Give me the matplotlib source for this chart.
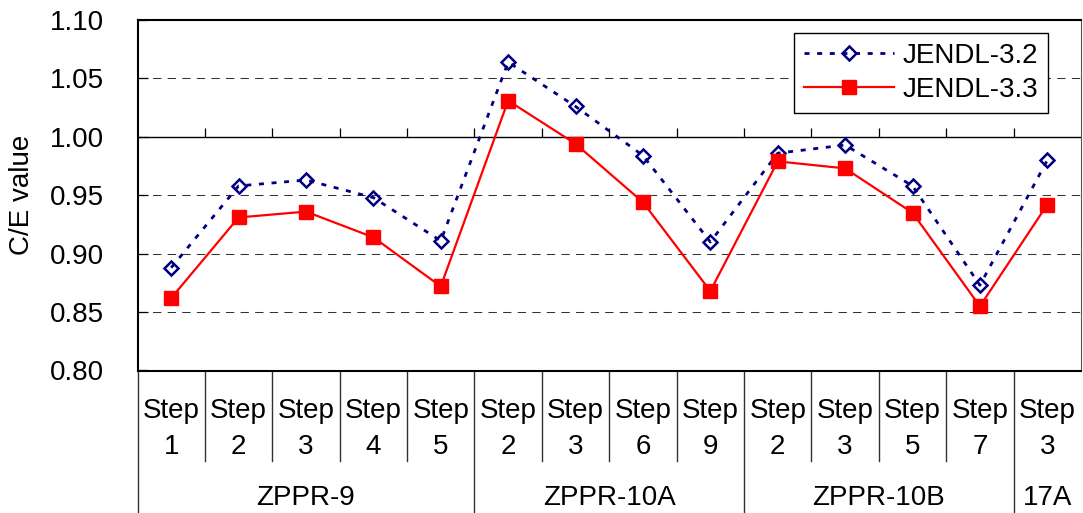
import matplotlib
matplotlib.use("Agg")
import matplotlib.pyplot as plt
import numpy as np

plt.rcParams['font.family'] = ['Liberation Sans', 'DejaVu Sans']
plt.rcParams['font.size'] = 20

# ---- data ----
steps = ["1", "2", "3", "4", "5", "2", "3", "6", "9", "2", "3", "5", "7", "3"]
groups = ["ZPPR-9", "ZPPR-10A", "ZPPR-10B", "17A"]
group_sizes = [5, 4, 4, 1]
jendl32 = [0.888, 0.958, 0.963, 0.948, 0.911, 1.064, 1.026, 0.984, 0.910,
           0.986, 0.993, 0.958, 0.873, 0.980]
jendl33 = [0.862, 0.931, 0.936, 0.914, 0.872, 1.031, 0.994, 0.944, 0.868,
           0.979, 0.973, 0.935, 0.855, 0.942]
yticks = [0.80, 0.85, 0.90, 0.95, 1.00, 1.05, 1.10]

W, H = 1083, 513
fig = plt.figure(figsize=(W / 100, H / 100), dpi=100)
L, R, T, B = 137.5, 1081, 20, 370.5
ax = fig.add_axes([L / W, 1 - B / H, (R - L) / W, (B - T) / H])

x = np.arange(len(steps))
ax.set_xlim(-0.5, len(steps) - 0.5)
ax.set_ylim(yticks[0], yticks[-1])

# grid lines
for yv in yticks[1:-1]:
    if abs(yv - 1.0) < 1e-9:
        ax.axhline(yv, color='black', lw=1.0, zorder=1)
    else:
        ax.axhline(yv, color='#333333', lw=0.75, ls=(0, (8, 6)), zorder=1)

# category ticks upward from the 1.00 line
data_per_px = (yticks[-1] - yticks[0]) / (B - T)
bounds = np.arange(len(steps) - 1) + 0.5
ax.vlines(bounds, 1.0, 1.0 + 9 * data_per_px, color='black', lw=0.9, zorder=1)

ax.plot(x, jendl32, color='#000080', lw=2.0, ls=(0, (1.8, 2.75)),
        marker='D', ms=7.2, mfc='none', mec='#000080', mew=1.8,
        label='JENDL-3.2', zorder=3)
ax.plot(x, jendl33, color='#ff0000', lw=1.6, ls='-',
        marker='s', ms=9.5, mfc='#ff0000', mec='#ff0000',
        label='JENDL-3.3', zorder=4)

ax.set_yticks(yticks)
ax.set_yticklabels([f"{v:.2f}" for v in yticks])
ax.tick_params(axis='y', direction='in', length=7, width=0.9, pad=24)
ax.set_xticks([])

for side in ['left', 'bottom', 'top']:
    ax.spines[side].set_linewidth(1.5)
ax.spines['right'].set_linewidth(0.8)
ax.spines['right'].set_color('#555555')

ax.set_ylabel('C/E value', va='center')
ax.yaxis.set_label_coords((22 - L) / (R - L), 0.5)

leg = ax.legend(loc='upper right',
                bbox_to_anchor=((1048 - L) / (R - L), (B - 33) / (B - T)),
                borderaxespad=0, frameon=True, fancybox=False, framealpha=1,
                edgecolor='black', handlelength=3.25, handletextpad=0.3,
                labelspacing=0.3, borderpad=0.35)
leg.get_frame().set_linewidth(1.0)

# category label table below the axes
def fy(py):
    return (B - py) / (B - T)

tr = ax.get_xaxis_transform()
for i, s in enumerate(steps):
    ax.text(i, fy(411), "Step", transform=tr, ha='center', va='center', clip_on=False)
    ax.text(i, fy(447), s, transform=tr, ha='center', va='center', clip_on=False)

group_edges = np.cumsum([0] + group_sizes)
for g, (a, b) in zip(groups, zip(group_edges[:-1], group_edges[1:])):
    ax.text((a + b - 1) / 2, fy(498), g, transform=tr, ha='center', va='center', clip_on=False)

for e in group_edges[:-1]:
    ax.plot([e - 0.5, e - 0.5], [0, fy(H + 5)], transform=tr, color='#333333',
            lw=1.0, clip_on=False)
for bnd in bounds:
    if (bnd + 0.5) in group_edges:
        continue
    ax.plot([bnd, bnd], [0, fy(461)], transform=tr, color='#333333',
            lw=1.0, clip_on=False)

fig.savefig("out.png", dpi=100)
